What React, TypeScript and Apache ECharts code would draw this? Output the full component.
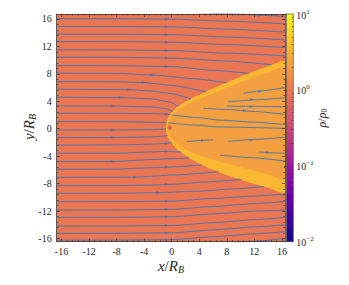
import React, { useEffect, useRef } from 'react';
import * as echarts from 'echarts';

// ---- axis ranges & ticks ----
const X_MIN = -16.7, X_MAX = 16.45, Y_MIN = -16.45, Y_MAX = 16.7;
const majorTicks = [-16, -12, -8, -4, 0, 4, 8, 12, 16];
const minorTicks = [-15.2, -14.4, -13.6, -12.8, -11.2, -10.4, -9.6, -8.8, -7.2, -6.4, -5.6, -4.8,
  -3.2, -2.4, -1.6, -0.8, 0.8, 1.6, 2.4, 3.2, 4.8, 5.6, 6.4, 7.2, 8.8, 9.6, 10.4, 11.2, 12.8, 13.6, 14.4, 15.2];
// colorbar: log10(rho/rho0)
const cbMinorRaw = [0.02, 0.03, 0.04, 0.05, 0.06, 0.07, 0.08, 0.09, 0.2, 0.3, 0.4, 0.5, 0.6, 0.7, 0.8, 0.9,
  2, 3, 4, 5, 6, 7, 8, 9];
const plasma = ['#0d0887', '#41049d', '#6a00a8', '#8f0da4', '#b12a90', '#cc4778', '#e16462', '#f2844b', '#fca636', '#fcce25', '#f0f921'];

// ---- bow shock region ----
const shockUpper: [number, number][] = [[-0.9, 0.2], [-0.7, 1.2], [-0.15, 2.2], [0.7, 3.1], [2.1, 4.0], [3.9, 4.9], [6.0, 5.85], [8.5, 6.95], [11.5, 8.2], [14.0, 9.1], [16.45, 9.8]];
const shockLower: [number, number][] = [[-0.9, 0.2], [-0.7, -0.9], [-0.15, -1.9], [0.7, -2.9], [2.0, -3.9], [3.6, -4.9], [5.5, -5.8], [8.0, -6.75], [11.0, -7.75], [14.0, -8.6], [16.45, -9.3]];
const innerUpper: [number, number][] = [[-0.6, 0.2], [-0.45, 1.0], [0.05, 1.9], [0.95, 2.75], [2.4, 3.6], [4.3, 4.45], [6.5, 5.35], [9.1, 6.4], [12.1, 7.55], [14.5, 8.4], [16.45, 9.0]];
const innerLower: [number, number][] = [[-0.6, 0.2], [-0.45, -0.6], [0.1, -1.5], [1.0, -2.35], [2.4, -3.2], [4.2, -3.95], [6.5, -4.65], [9.3, -5.4], [12.3, -6.2], [14.5, -6.8], [16.45, -7.35]];
const obstacle: [number, number] = [-0.3, 0.15];

// ---- streamlines ----
const streamlines: [number, number][][] = [
  [[-16.7, 17.05], [0, 17.0], [8, 16.75], [16.45, 16.33]],
  [[-16.7, 16.0], [-8, 16.0], [0, 15.95], [8, 15.65], [16.45, 15.27]],
  [[-16.7, 14.88], [-8, 14.88], [0, 14.83], [8, 14.5], [16.45, 14.06]],
  [[-16.7, 13.77], [-8, 13.77], [0, 13.7], [8, 13.35], [16.45, 12.94]],
  [[-16.7, 12.69], [-8, 12.68], [0, 12.6], [8, 12.25], [16.45, 11.81]],
  [[-16.7, 11.48], [-8, 11.47], [0, 11.38], [8, 11.0], [16.45, 10.6]],
  [[-16.7, 10.42], [-8, 10.4], [0, 10.28], [8, 9.85], [14.5, 9.3]],
  [[-16.7, 9.19], [-8, 9.17], [0, 9.05], [6, 8.5], [11.2, 8.05]],
  [[-16.7, 8.08], [-8, 8.05], [-2.9, 7.82], [3, 7.3], [8.0, 6.7]],
  [[-16.7, 6.86], [-8, 6.83], [-4.1, 6.72], [0, 6.3], [5.0, 5.35]],
  [[-16.7, 5.75], [-6.3, 5.68], [-3, 5.5], [0, 5.1], [2.8, 4.3]],
  [[-16.7, 4.59], [-7.5, 4.53], [-3, 4.35], [-0.5, 3.95], [1.0, 3.25]],
  [[-16.7, 3.32], [-8.6, 3.3], [-3, 3.18], [-1, 2.95], [0.2, 2.5]],
  [[-16.7, 2.25], [-8, 2.24], [-3, 2.2], [-0.74, 2.12], [-0.2, 2.02]],
  [[-16.7, 1.03], [-8, 1.02], [-3, 0.95], [-0.75, 0.9]],
  [[-16.7, -0.18], [-8.6, -0.19], [-3, -0.15], [-0.85, -0.05]],
  [[-16.7, -1.3], [-8.6, -1.28], [-3, -1.2], [-0.6, -1.0]],
  [[-16.7, -2.37], [-8, -2.36], [-3, -2.24], [-0.74, -2.15], [0.0, -2.0]],
  [[-16.7, -3.58], [-8, -3.56], [-3, -3.38], [-0.74, -3.3], [1.4, -3.4]],
  [[-16.7, -4.8], [-8.6, -4.78], [-3, -4.5], [0, -4.35], [2.5, -4.25]],
  [[-16.7, -5.91], [-8, -5.88], [-3, -5.68], [-0.74, -5.6], [4.4, -5.29]],
  [[-16.7, -7.08], [-5.3, -7.05], [-3, -6.92], [0, -6.75], [6.8, -6.27]],
  [[-16.7, -8.3], [-8, -8.29], [-3, -8.2], [0, -8.1], [5, -7.75], [10.1, -7.4]],
  [[-16.7, -9.41], [-8, -9.4], [-2, -9.3], [4, -9.1], [9, -8.75], [13.4, -8.42]],
  [[-16.7, -10.63], [-8, -10.62], [0, -10.55], [6, -10.15], [12, -9.8], [16.45, -9.5]],
  [[-16.7, -11.85], [-8, -11.84], [0, -11.75], [6, -11.33], [12, -10.9], [16.45, -10.6]],
  [[-16.7, -12.91], [-8, -12.9], [0, -12.82], [6, -12.4], [12, -12.0], [16.45, -11.85]],
  [[-16.7, -14.18], [-8, -14.17], [0, -14.1], [6, -13.68], [12, -13.25], [16.45, -12.9]],
  [[-16.7, -15.24], [-8, -15.23], [0, -15.15], [6, -14.73], [12, -14.3], [16.45, -14.0]],
  [[-16.7, -16.22], [-8, -16.21], [0, -16.15], [6, -15.73], [12, -15.3], [16.45, -15.0]],
  [[-16.7, -17.3], [0, -17.25], [6, -16.83], [12, -16.4], [16.45, -15.97]],
  // segments inside the shocked region
  [[-0.5, 0.85], [3, 0.55], [7, 0.25], [16.45, 0.05]],
  [[0.0, 2.0], [4, 1.6], [7, 1.25], [12, 0.95], [16.45, 0.6]],
  [[4.6, 2.98], [8, 2.8], [12, 2.5], [16.45, 2.1]],
  [[8.0, 3.3], [12, 3.25], [16.45, 3.2]],
  [[8.2, 3.9], [12, 4.2], [16.45, 4.5]],
  [[10.4, 5.15], [13, 5.5], [16.45, 6.0]],
  [[2.2, -1.85], [6, -1.62]],
  [[8.2, -1.85], [12, -1.55], [16.45, -1.25]],
  [[12.6, -3.4], [16.45, -3.6]],
  [[7, -3.85], [12, -4.25], [16.45, -4.7]],
];

const arrows: [number, number][] = [
  [-0.74, 15.95], [-0.74, 14.83], [-0.74, 13.7], [-0.74, 12.6], [-0.74, 11.38], [-0.74, 10.28], [-0.74, 9.05],
  [-2.9, 7.82], [-4.1, 6.72], [-6.3, 5.68], [-7.5, 4.53], [-8.6, 3.3], [-0.74, 2.12],
  [-8.6, -0.19], [-8.6, -1.28], [-0.74, -2.15], [-0.74, -3.3], [-8.6, -4.78], [-0.74, -5.6], [-5.3, -7.05],
  [-0.74, -8.08], [-1.95, -9.3], [-0.74, -10.55], [-0.74, -11.75], [-0.74, -12.82], [-0.74, -14.1],
  [-0.74, -15.15], [-0.74, -16.15], [12.8, 16.51], [12.6, -16.34],
  [12.8, 5.4], [11.6, 4.25], [11.6, 3.25], [10.6, 2.65], [11.6, -1.64], [14.0, -3.45], [4.5, -1.7],
];

const FONT = 'Liberation Serif';
const INK = '#262626';
const BG = '#EB7653';
const BAND = '#FAB732';
const INNER = '#F4A040';
const LINE = '#3E74B6';

export default function App() {
  const ref = useRef<HTMLDivElement>(null);
  useEffect(() => {
    const chart = echarts.init(ref.current!, null, { renderer: 'svg' });

    const xAx = (pos: string, ticks: number[], len: number, line: boolean, labels: boolean) => ({
      type: 'value', gridIndex: 0, min: X_MIN, max: X_MAX, position: pos, z: 10,
      axisLine: { show: line, onZero: false, lineStyle: { color: INK, width: 0.7 } },
      axisTick: { show: true, inside: true, length: len, customValues: ticks, lineStyle: { color: INK, width: 0.6 } },
      axisLabel: labels
        ? { show: true, customValues: ticks, fontFamily: FONT, fontSize: 10, color: INK, margin: 5 }
        : { show: false },
      splitLine: { show: false },
    });
    const yAx = (pos: string, ticks: number[], len: number, line: boolean, labels: boolean) => ({
      type: 'value', gridIndex: 0, min: Y_MIN, max: Y_MAX, position: pos, z: 10,
      axisLine: { show: line, onZero: false, lineStyle: { color: INK, width: 0.7 } },
      axisTick: { show: true, inside: true, length: len, customValues: ticks, lineStyle: { color: INK, width: 0.6 } },
      axisLabel: labels
        ? { show: true, customValues: ticks, fontFamily: FONT, fontSize: 10, color: INK, margin: 5 }
        : { show: false },
      splitLine: { show: false },
    });

    const cbMinor = cbMinorRaw.map((v) => Math.log10(v));

    const option: any = {
      animation: false,
      grid: [
        { left: 56.7, top: 14, width: 228.3, height: 227.7, show: true, backgroundColor: BG, borderWidth: 0 },
        { left: 286.5, top: 14, width: 6.8, height: 227.7, show: false },
      ],
      xAxis: [
        xAx('bottom', majorTicks, 3, true, true),
        xAx('bottom', minorTicks, 1.6, false, false),
        xAx('top', majorTicks, 3, true, false),
        xAx('top', minorTicks, 1.6, false, false),
        { type: 'value', gridIndex: 1, min: 0, max: 1, show: false },
      ],
      yAxis: [
        yAx('left', majorTicks, 3, true, true),
        yAx('left', minorTicks, 1.6, false, false),
        yAx('right', majorTicks, 3, true, false),
        yAx('right', minorTicks, 1.6, false, false),
        {
          type: 'value', gridIndex: 1, min: -2, max: 1, interval: 1, position: 'right', z: 10,
          axisLine: { show: false },
          axisTick: { show: true, inside: true, length: 2.5, lineStyle: { color: INK, width: 0.6 } },
          axisLabel: {
            show: true, margin: 3, color: INK,
            formatter: (v: number) => '{b|10}{s|' + (v < 0 ? '\u2212' + Math.abs(v) : String(v)) + '}',
            rich: {
              b: { fontFamily: FONT, fontSize: 10, color: INK, verticalAlign: 'bottom' },
              s: { fontFamily: FONT, fontSize: 7, color: INK, verticalAlign: 'top', padding: [0, 0, 5, 0] },
            },
          },
          splitLine: { show: false },
        },
        {
          type: 'value', gridIndex: 1, min: -2, max: 1, position: 'right', z: 10,
          axisLine: { show: false },
          axisTick: { show: true, inside: true, length: 1.5, customValues: cbMinor, lineStyle: { color: INK, width: 0.5 } },
          axisLabel: { show: false },
          splitLine: { show: false },
        },
      ],
      series: [
        {
          type: 'custom', xAxisIndex: 0, yAxisIndex: 0, z: 1, silent: true,
          data: [[0, 0]],
          renderItem: (_p: any, api: any) => {
            const toPix = (pts: [number, number][]) => pts.map((p) => api.coord(p));
            const outer = toPix([...shockUpper, ...[...shockLower].reverse()]);
            const inner = toPix([...innerUpper, ...[...innerLower].reverse()]);
            const d = api.coord(obstacle);
            return {
              type: 'group',
              children: [
                { type: 'polygon', shape: { points: outer, smooth: 0.2 }, style: { fill: BAND } },
                { type: 'polygon', shape: { points: inner, smooth: 0.2 }, style: { fill: INNER } },
                { type: 'circle', shape: { cx: d[0], cy: d[1], r: 1.8 }, style: { fill: '#E4604E', stroke: '#C8503F', lineWidth: 0.5 } },
              ],
            };
          },
        },
        ...streamlines.map((pts) => ({
          type: 'line', xAxisIndex: 0, yAxisIndex: 0, z: 3, silent: true,
          data: pts, showSymbol: false, symbol: 'none', smooth: 0.2, smoothMonotone: 'x', clip: true,
          lineStyle: { color: LINE, width: 0.9 },
        })),
        {
          type: 'scatter', xAxisIndex: 0, yAxisIndex: 0, z: 4, silent: true,
          data: arrows, symbol: 'triangle', symbolSize: [3, 3.5], symbolRotate: -90,
          itemStyle: { color: LINE },
        },
        {
          type: 'custom', xAxisIndex: 4, yAxisIndex: 4, z: 1, silent: true,
          data: [[0, 0]],
          renderItem: (_p: any, api: any) => {
            const a = api.coord([0, 1]);
            const b = api.coord([1, -2]);
            const stops = plasma.map((c, i) => ({ offset: i / (plasma.length - 1), color: c }));
            return {
              type: 'rect',
              shape: { x: a[0], y: a[1], width: b[0] - a[0], height: b[1] - a[1] },
              style: {
                fill: new echarts.graphic.LinearGradient(0, 1, 0, 0, stops),
                stroke: '#3a3a3a', lineWidth: 0.6,
              },
            };
          },
        },
      ],
      graphic: [
        {
          type: 'text', x: 171, y: 266, z: 20,
          style: {
            text: '{i|x}{n|/}{i|R}{sub|B}', align: 'center', verticalAlign: 'middle',
            rich: {
              i: { fontFamily: FONT, fontStyle: 'italic', fontSize: 15, fill: INK, verticalAlign: 'top' },
              n: { fontFamily: FONT, fontSize: 15, fill: INK, verticalAlign: 'top' },
              sub: { fontFamily: FONT, fontStyle: 'italic', fontSize: 10, fill: INK, verticalAlign: 'bottom', padding: [6, 0, 0, 0] },
            },
          },
        },
        {
          type: 'text', x: 29, y: 127, rotation: Math.PI / 2, z: 20,
          style: {
            text: '{i|y}{n|/}{i|R}{sub|B}', align: 'center', verticalAlign: 'middle',
            rich: {
              i: { fontFamily: FONT, fontStyle: 'italic', fontSize: 15, fill: INK, verticalAlign: 'top' },
              n: { fontFamily: FONT, fontSize: 15, fill: INK, verticalAlign: 'top' },
              sub: { fontFamily: FONT, fontStyle: 'italic', fontSize: 10, fill: INK, verticalAlign: 'bottom', padding: [6, 0, 0, 0] },
            },
          },
        },
        {
          type: 'text', x: 322, y: 118, rotation: Math.PI / 2, z: 20,
          style: {
            text: '{i|\u03c1}{n|/}{i|\u03c1}{sub|0}', align: 'center', verticalAlign: 'middle',
            rich: {
              i: { fontFamily: FONT, fontStyle: 'italic', fontSize: 12, fill: INK, verticalAlign: 'top' },
              n: { fontFamily: FONT, fontSize: 12, fill: INK, verticalAlign: 'top' },
              sub: { fontFamily: FONT, fontSize: 8, fill: INK, verticalAlign: 'bottom', padding: [5, 0, 0, 0] },
            },
          },
        },
      ],
    };
    chart.setOption(option);
    return () => chart.dispose();
  }, []);
  return <div ref={ref} style={{ position: 'absolute', left: 0, top: 0, width: 349, height: 285 }} />;
}
